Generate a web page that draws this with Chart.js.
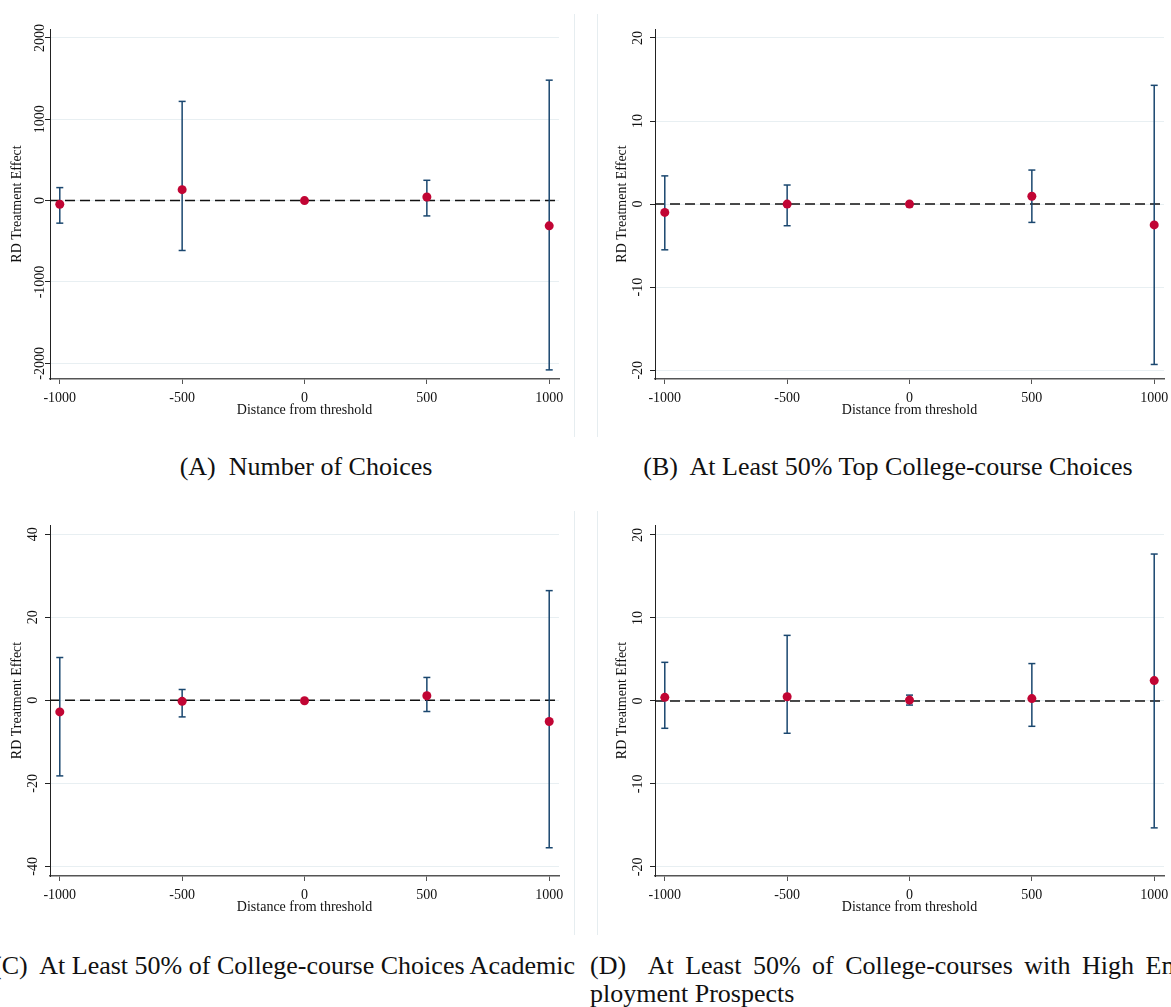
<!DOCTYPE html>
<html>
<head>
<meta charset="utf-8">
<script src="https://cdn.jsdelivr.net/npm/chart.js@4.4.1/dist/chart.umd.min.js"></script>
<style>
  body { margin: 0; background: #fff; }
  #page { position: relative; width: 1171px; height: 1007px; overflow: hidden; font-family: "Liberation Serif", "Times New Roman", serif; color: #111; }
  canvas { position: absolute; }
  .sep { position: absolute; width: 1px; background: #e6edf0; }
  .cap { position: absolute; font-size: 26px; line-height: 28px; white-space: nowrap; }
</style>
</head>
<body>
<div id="page">
  <canvas id="chartA" width="575" height="440" style="left:0;top:0"></canvas>
  <canvas id="chartB" width="580" height="440" style="left:605px;top:0"></canvas>
  <canvas id="chartC" width="575" height="440" style="left:0;top:500px"></canvas>
  <canvas id="chartD" width="580" height="440" style="left:605px;top:500px"></canvas>

  <div class="sep" style="left:574px;top:14px;height:423px"></div>
  <div class="sep" style="left:597px;top:14px;height:423px"></div>
  <div class="sep" style="left:574px;top:511px;height:424px"></div>
  <div class="sep" style="left:597px;top:511px;height:424px"></div>

  <div class="cap" style="left:0;width:612px;top:453px;text-align:center">(A)&nbsp; Number of Choices</div>
  <div class="cap" style="left:597px;width:582px;top:453px;text-align:center">(B)&nbsp; At Least 50% Top College-course Choices</div>
  <div class="cap" style="right:596px;top:952px">(C)&nbsp; At Least 50% of College-course Choices Academic</div>
  <div class="cap" style="left:590px;top:952px;word-spacing:5px">(D)&nbsp; At Least 50% of College-courses with High Em-</div>
  <div class="cap" style="left:590px;top:980px">ployment Prospects</div>
</div>

<script>
// distance from threshold (x positions) and tick labels
var xValues = [-1000, -500, 0, 500, 1000];
var xTicks = [-1000, -500, 0, 500, 1000];

// (A) Number of Choices
var estA = [-44, 135, 0, 45, -310];
var loA = [-277, -613, -20, -188, -2081];
var hiA = [160, 1220, 20, 250, 1481];
var yTicksA = [-2000, -1000, 0, 1000, 2000];

// (B) At Least 50% Top College-course Choices
var estB = [-1.0, 0.0, 0.0, 0.95, -2.5];
var loB = [-5.5, -2.6, -0.3, -2.2, -19.3];
var hiB = [3.4, 2.3, 0.3, 4.1, 14.3];
var yTicksB = [-20, -10, 0, 10, 20];

// (C) At Least 50% of College-course Choices Academic
var estC = [-2.8, -0.25, -0.1, 1.1, -5.1];
var loC = [-18.2, -4.0, -0.4, -2.7, -35.5];
var hiC = [10.3, 2.6, 0.3, 5.5, 26.4];
var yTicksC = [-40, -20, 0, 20, 40];

// (D) At Least 50% of College-courses with High Employment Prospects
var estD = [0.43, 0.5, 0.1, 0.28, 2.45];
var loD = [-3.3, -3.9, -0.5, -3.06, -15.3];
var hiD = [4.65, 7.9, 0.7, 4.5, 17.7];
var yTicksD = [-20, -10, 0, 10, 20];

var navy = '#1a476f';
var cranberry = '#c10534';
var serif = '"Liberation Serif", "Times New Roman", serif';

// y tick labels are drawn turned by 90 degrees, as in the Stata graphs
var rotatedYTicks = {
  id: 'rotatedYTicks',
  afterDraw: function (chart, args, opts) {
    var s = chart.scales.y, ctx = chart.ctx;
    ctx.save();
    ctx.font = '14px ' + serif;
    ctx.fillStyle = '#111';
    ctx.textAlign = 'center';
    ctx.textBaseline = 'middle';
    s.ticks.forEach(function (t) {
      ctx.save();
      ctx.translate(s.right - opts.gap, s.getPixelForValue(t.value));
      ctx.rotate(-Math.PI / 2);
      ctx.fillText(String(t.value), 0, 0);
      ctx.restore();
    });
    ctx.restore();
  }
};

function makePanel(id, est, lo, hi, yTicks, yMin, yMax, opt) {
  var points = xValues.map(function (x, i) { return {x: x, y: est[i]}; });
  var bars = [];
  xValues.forEach(function (x, i) {
    bars.push({x: x, y: lo[i]}, {x: x, y: hi[i]}, {x: x, y: null});
  });

  return new Chart(document.getElementById(id), {
    type: 'scatter',
    data: {
      datasets: [{
        data: points,
        pointRadius: 4.5,
        pointBackgroundColor: cranberry,
        pointBorderColor: cranberry,
        pointBorderWidth: 0
      }, {
        data: bars,
        showLine: true,
        spanGaps: false,
        borderColor: navy,
        borderWidth: 1.5,
        pointStyle: 'line',
        pointRadius: 3.5,
        pointBorderColor: navy,
        pointBorderWidth: 1.5
      }, {
        data: [{x: -1040, y: 0}, {x: 1040, y: 0}],
        showLine: true,
        borderColor: '#111',
        borderWidth: 1.5,
        borderDash: [10, 5],
        pointRadius: 0
      }]
    },
    options: {
      responsive: false,
      animation: false,
      events: [],
      layout: { padding: { top: opt.top, right: opt.right, bottom: opt.bottom, left: 0 } },
      plugins: {
        legend: { display: false },
        tooltip: { enabled: false },
        rotatedYTicks: { gap: opt.gap }
      },
      scales: {
        x: {
          type: 'linear',
          min: -1040,
          max: 1040,
          afterBuildTicks: function (s) { s.ticks = xTicks.map(function (v) { return {value: v}; }); },
          afterFit: function (s) { s.height = 40; },
          grid: { drawOnChartArea: false, tickLength: 5, tickColor: '#555' },
          border: { color: '#555', width: 1.5 },
          ticks: {
            font: { family: serif, size: 14 }, color: '#111', padding: 6, maxRotation: 0,
            callback: function (v) { return String(v); }
          },
          title: { display: true, text: 'Distance from threshold', font: { family: serif, size: 14 }, color: '#111', padding: { top: 0, bottom: 0 } }
        },
        y: {
          min: yMin,
          max: yMax,
          afterBuildTicks: function (s) { s.ticks = yTicks.map(function (v) { return {value: v}; }); },
          afterFit: function (s) { s.width = 50; },
          grid: { color: '#e8eff2', lineWidth: 1, tickLength: 5, tickColor: '#222' },
          border: { color: '#222', width: 1 },
          ticks: { display: false },
          title: { display: true, text: 'RD Treatment Effect', font: { family: serif, size: 14 }, color: '#111', padding: { top: 9, bottom: 0 } }
        }
      }
    },
    plugins: [rotatedYTicks]
  });
}

makePanel('chartA', estA, loA, hiA, yTicksA, -2193, 2110, {top: 29, right: 16, bottom: 21, gap: 10});
makePanel('chartB', estB, loB, hiB, yTicksB, -21.05, 21.08, {top: 29, right: 21, bottom: 21, gap: 17});
makePanel('chartC', estC, loC, hiC, yTicksC, -42.3, 42.2, {top: 25, right: 16, bottom: 24, gap: 17});
makePanel('chartD', estD, loD, hiD, yTicksD, -21.1, 21.2, {top: 25, right: 21, bottom: 24, gap: 17});
</script>
</body>
</html>
